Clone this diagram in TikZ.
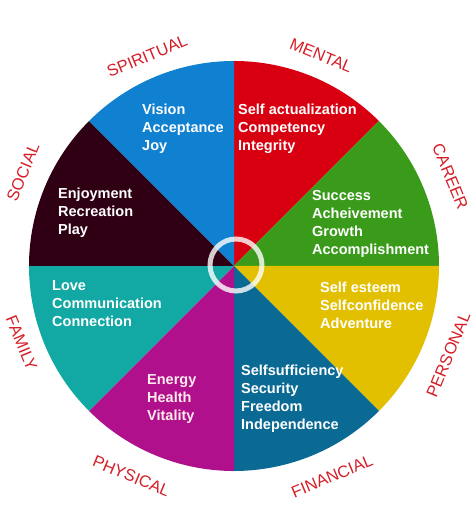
\documentclass[tikz,border=0pt]{standalone}
\usepackage{fontspec}
\setmainfont{Liberation Sans}
\usepackage{xcolor}
\usetikzlibrary{positioning}
\definecolor{wheelblue}{RGB}{16,128,208}
\definecolor{wheelred}{RGB}{216,0,16}
\definecolor{wheelgreen}{RGB}{58,154,26}
\definecolor{wheelyellow}{RGB}{226,192,0}
\definecolor{wheelnavy}{RGB}{11,106,148}
\definecolor{wheelmagenta}{RGB}{176,16,140}
\definecolor{wheelteal}{RGB}{18,168,163}
\definecolor{wheelmaroon}{RGB}{47,0,20}
\definecolor{labelred}{RGB}{214,30,40}
\tikzset{
  wheelfont/.style={font=\fontsize{14.5}{18}\selectfont\bfseries},
  areatext/.style={wheelfont, text=white, align=left, anchor=west, inner sep=0pt},
  arealabel/.style={font=\fontsize{16.5}{18}\selectfont, text=labelred, inner sep=0pt},
  ring/.style={white, opacity=0.8, line width=5pt},
}

\begin{document}
\begin{tikzpicture}[x=1pt, y=1pt]
  \useasboundingbox (-234,-260) rectangle (240,266);

  % Wheel sectors
  \coordinate (c) at (0,0);
  \fill[wheelred] (c) -- (90:205) arc[start angle=90, end angle=45, radius=205] -- cycle;
  \fill[wheelgreen] (c) -- (45:205) arc[start angle=45, end angle=0, radius=205] -- cycle;
  \fill[wheelyellow] (c) -- (0:205) arc[start angle=0, end angle=-45, radius=205] -- cycle;
  \fill[wheelnavy] (c) -- (-45:205) arc[start angle=-45, end angle=-90, radius=205] -- cycle;
  \fill[wheelmagenta] (c) -- (-90:205) arc[start angle=-90, end angle=-135, radius=205] -- cycle;
  \fill[wheelteal] (c) -- (-135:205) arc[start angle=-135, end angle=-180, radius=205] -- cycle;
  \fill[wheelmaroon] (c) -- (180:205) arc[start angle=180, end angle=135, radius=205] -- cycle;
  \fill[wheelblue] (c) -- (135:205) arc[start angle=135, end angle=90, radius=205] -- cycle;

  % Centre ring
  \draw[ring] (2,1) circle[radius=26];

  % Texts inside the sectors
  \node[areatext] (spiritualtext) at (-92,137) {Vision\\Acceptance\\Joy};
  \node[areatext] (mentaltext) at (4,137) {Self actualization\\Competency\\Integrity};
  \node[areatext] (socialtext) at (-176,53) {Enjoyment\\Recreation\\Play};
  \node[areatext] (careertext) at (78,42) {Success\\Acheivement\\Growth\\Accomplishment};
  \node[areatext] (familytext) at (-182,-38) {Love\\Communication\\Connection};
  \node[areatext] (personaltext) at (86,-39) {Self esteem\\Selfconfidence\\Adventure};
  \node[areatext, text=pink!30] (physicaltext) at (-87,-133) {Energy\\Health\\Vitality};
  \node[areatext] (financialtext) at (7,-133) {Selfsufficiency\\Security\\Freedom\\Independence};

  % Labels round the wheel
  \node[arealabel, rotate=22.5] (spiritual) at (112.5:227) {SPIRITUAL};
  \node[arealabel, rotate=-22.5] (mental) at (67.5:228) {MENTAL};
  \node[arealabel, rotate=-67.5] (career) at (22.5:234) {CAREER};
  \node[arealabel, rotate=67.5] (social) at (156:231) {SOCIAL};
  \node[arealabel, rotate=-67.5] (family) at (200:226) {FAMILY};
  \node[arealabel, rotate=67.5] (personal) at (-22.5:232) {PERSONAL};
  \node[arealabel, rotate=-22.5] (physical) at (-116:234) {PHYSICAL};
  \node[arealabel, rotate=22.5] (financial) at (-65:232) {FINANCIAL};
\end{tikzpicture}
\end{document}
